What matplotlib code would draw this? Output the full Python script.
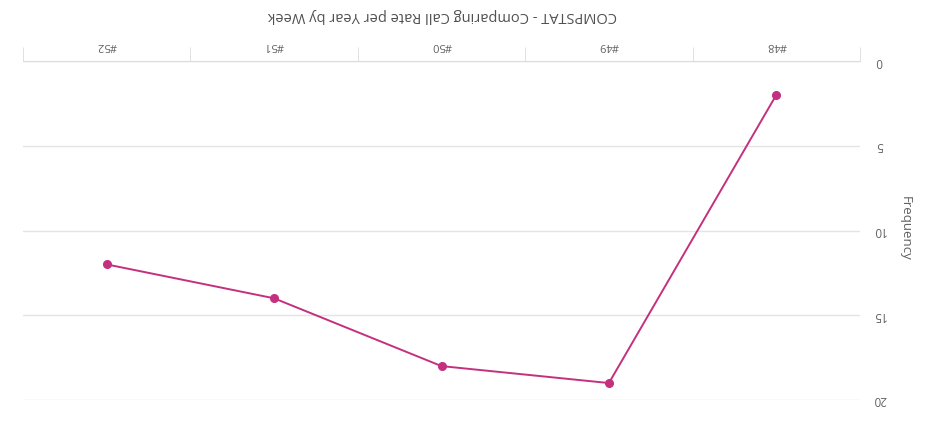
import numpy as np
import matplotlib.pyplot as plt

# the scan is upside down, so everything is drawn rotated by 180 degrees
weeks = ['#48', '#49', '#50', '#51', '#52']
frequency = [2, 19, 18, 14, 12]
yticks = [0, 5, 10, 15, 20]
title = 'COMPSTAT - Comparing Call Rate per Year by Week'

plt.rcParams['font.family'] = ['Open Sans', 'DejaVu Sans']
txt = '#606060'

fig = plt.figure(figsize=(9.26, 4.25), dpi=100)
ax = fig.add_axes([23/926, 1-400/425, (860-23)/926, (400-61)/425])

x = np.arange(len(weeks))
ax.plot(x, frequency, '-', color='#c4307e', lw=1.4, marker='o', ms=5.5, zorder=5)

ax.set_xlim(len(weeks)-0.5, -0.5)
ax.set_ylim(20, 0)
ax.set_yticks(yticks)
ax.set_yticklabels([str(v) for v in yticks], rotation=180, color=txt, fontsize=8.5,
                   ha='center', va='center')
ax.yaxis.tick_right()
ax.tick_params(axis='y', length=0, pad=14)
ax.grid(axis='y', color='#e4e4e4', lw=1)

ax.xaxis.tick_top()
ax.set_xticks(x)
ax.set_xticklabels(weeks, rotation=180, color=txt, fontsize=8)
ax.tick_params(axis='x', length=0, pad=7)
# tick separators between the weeks
ax.set_xticks(np.arange(len(weeks)+1)-0.5, minor=True)
ax.tick_params(axis='x', which='minor', top=True, bottom=False, length=10, color='#dcdcdc')

for s in ['left', 'right', 'bottom']:
    ax.spines[s].set_visible(False)
ax.spines['top'].set_color('#dcdcdc')
ax.set_axisbelow(True)

fig.text(905/926, 1-228/425, 'Frequency', rotation=-90, ha='center', va='center',
         color=txt, fontsize=9.5)

fig.text(442/926, 1-15/425, title, rotation=180, ha='center', va='center',
         color='#505050', fontsize=10.5)

plt.savefig('out.png', dpi=100)
